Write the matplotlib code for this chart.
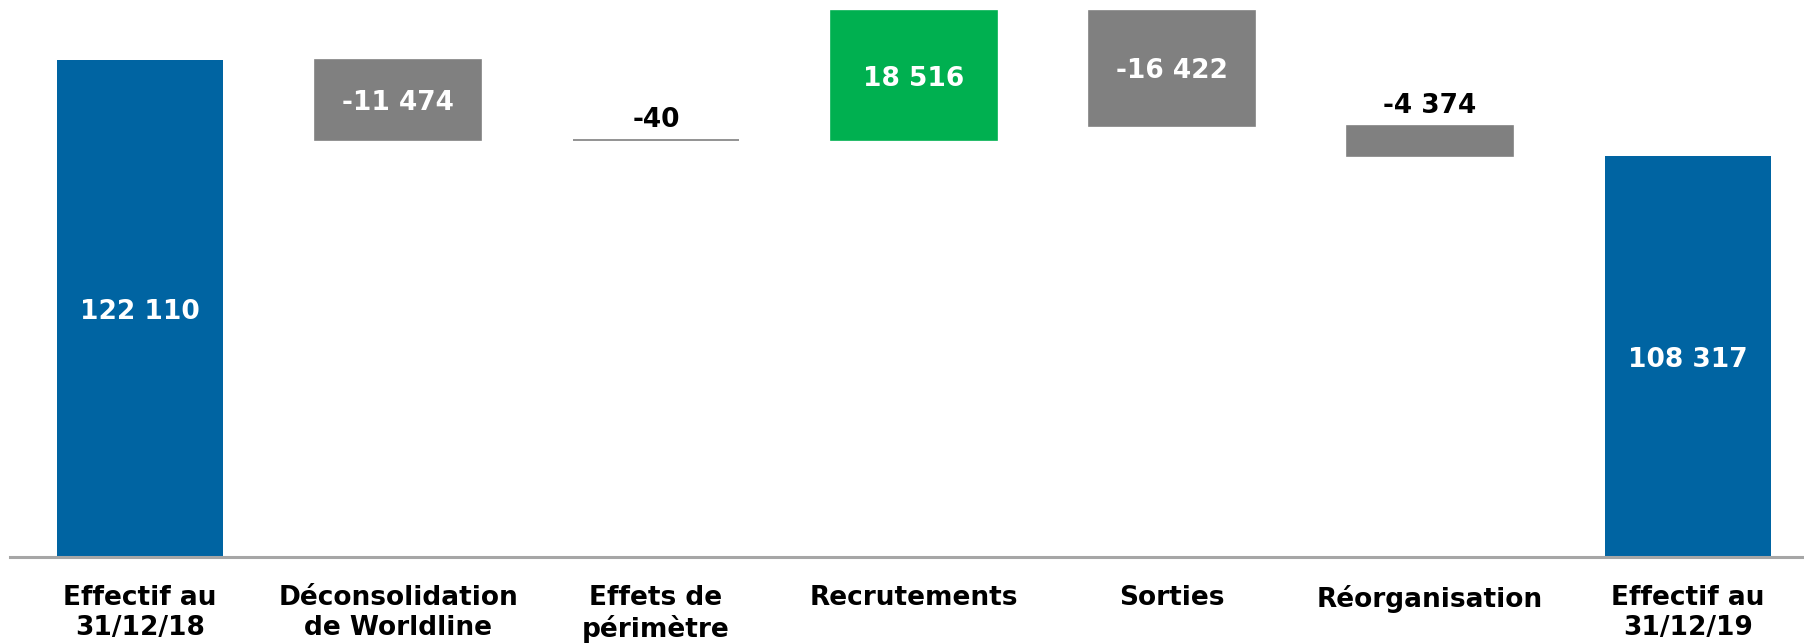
import numpy as np
import matplotlib.pyplot as plt

categories = ['Effectif au\n31/12/18', 'Déconsolidation\nde Worldline', 'Effets de\npérimètre',
              'Recrutements', 'Sorties', 'Réorganisation', 'Effectif au\n31/12/19']
start_total = 122110
changes = [-11474, -40, 18516, -16422, -4374]
end_total = 108317

blue = '#0064A2'
grey = '#808080'
green = '#00B050'

plt.rcParams['font.family'] = ['DejaVu Sans']
plt.rcParams['font.weight'] = 'bold'

fig = plt.figure(figsize=(18.04, 6.44), dpi=100)
ax = fig.add_axes([10 / 1804, 87 / 644, 1 - 10 / 1804, 1 - 87 / 644])
ymin, ymax = 50800, 130720
ax.set_ylim(ymin, ymax)
ax.set_xlim(-0.504, 6.45)

def fmt(v):
    return f'{v:,}'.replace(',', ' ')

width = 0.643
fs = 19
x = np.arange(len(categories))

# totals
for xi, val in [(0, start_total), (len(categories) - 1, end_total)]:
    ax.bar(xi, val, width=width, color=blue, zorder=2)
    ax.text(xi, (ymin + val) / 2, fmt(val), ha='center', va='center_baseline', color='white',
            fontsize=fs, fontweight='bold', zorder=3)

# floating changes
level = start_total
for i, d in enumerate(changes):
    xi = i + 1
    new_level = level + d
    lo, hi = min(level, new_level), max(level, new_level)
    col = green if d > 0 else grey
    ax.bar(xi, hi - lo, bottom=lo, width=width, color=col, edgecolor=col, linewidth=1.2, zorder=2)
    if (hi - lo) > 8000:
        ax.text(xi, (lo + hi) / 2, fmt(d), ha='center', va='center_baseline', color='white',
                fontsize=fs, fontweight='bold', zorder=3)
    else:
        ax.text(xi, hi + 3300, fmt(d), ha='center', va='center_baseline', color='black',
                fontsize=fs, fontweight='bold', zorder=3)
    level = new_level

ax.set_xticks(x)
ax.set_xticklabels(categories, fontsize=fs, fontweight='bold', linespacing=1.2)
ax.tick_params(axis='x', length=0, pad=20)
ax.set_yticks([])
for s in ['top', 'left', 'right']:
    ax.spines[s].set_visible(False)
ax.spines['bottom'].set_color('#A6A6A6')
ax.spines['bottom'].set_linewidth(2.2)
ax.spines['bottom'].set_zorder(4)

fig.savefig('out.png', dpi=100)
